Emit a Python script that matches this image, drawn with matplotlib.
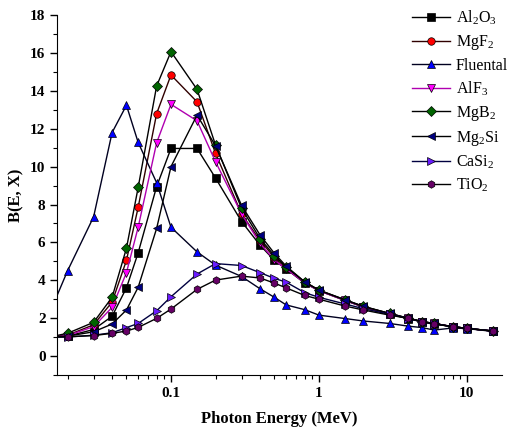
import matplotlib
matplotlib.use("Agg")
import matplotlib.pyplot as plt
from matplotlib.ticker import MultipleLocator, LogLocator, FixedLocator, NullFormatter, FixedFormatter

plt.rcParams['font.family'] = ['Liberation Serif', 'DejaVu Serif']
plt.rcParams['mathtext.fontset'] = 'custom'
plt.rcParams['mathtext.rm'] = 'Liberation Serif'
plt.rcParams['mathtext.it'] = 'Liberation Serif:italic'
plt.rcParams['mathtext.bf'] = 'Liberation Serif:bold'

energy = [0.015, 0.02, 0.03, 0.04, 0.05, 0.06, 0.08, 0.1, 0.15, 0.2, 0.3, 0.4, 0.5,
          0.6, 0.8, 1, 1.5, 2, 3, 4, 5, 6, 8, 10, 15]

al2o3 = [1.0, 1.05, 1.4, 2.1, 3.6, 5.45, 8.95, 10.96, 10.96, 9.4, 7.1, 5.85, 5.05,
         4.6, 3.85, 3.45, 2.93, 2.58, 2.22, 1.98, 1.8, 1.7, 1.55, 1.46, 1.32]
mgf2 = [1.0, 1.1, 1.65, 2.85, 5.05, 7.85, 12.8, 14.84, 13.42, 10.7, 7.5, 6.1, 5.2,
        4.65, 3.9, 3.46, 2.95, 2.6, 2.24, 1.99, 1.81, 1.72, 1.55, 1.46, 1.32]
fluental = [2.2, 4.5, 7.35, 11.8, 13.24, 11.28, 9.15, 6.8, 5.5, 4.8, 4.2, 3.55, 3.1,
            2.7, 2.45, 2.16, 1.98, 1.85, 1.72, 1.58, 1.5, 1.37, 1.48, 1.45, 1.3]
alf3 = [1.0, 1.08, 1.55, 2.57, 4.4, 6.8, 11.26, 13.29, 12.42, 10.26, 7.5, 5.95, 5.07,
        4.6, 3.88, 3.45, 2.94, 2.6, 2.23, 1.99, 1.81, 1.72, 1.55, 1.46, 1.32]
mgb2 = [1.0, 1.2, 1.78, 3.1, 5.69, 8.9, 14.26, 16.07, 14.08, 11.14, 7.8, 6.2, 5.3,
        4.7, 3.92, 3.48, 2.97, 2.62, 2.25, 2.0, 1.82, 1.72, 1.55, 1.46, 1.32]
mg2si = [1.0, 1.05, 1.28, 1.69, 2.43, 3.63, 6.74, 10.0, 12.72, 11.1, 7.95, 6.39, 5.42,
         4.75, 3.92, 3.48, 2.97, 2.62, 2.25, 2.0, 1.82, 1.72, 1.55, 1.46, 1.32]
casi2 = [1.0, 1.0, 1.1, 1.23, 1.5, 1.72, 2.39, 3.13, 4.33, 4.88, 4.78, 4.4, 4.1,
         3.9, 3.35, 3.1, 2.75, 2.5, 2.2, 1.98, 1.8, 1.7, 1.55, 1.46, 1.32]
tio2 = [1.0, 1.02, 1.08, 1.2, 1.32, 1.51, 1.99, 2.48, 3.52, 4.01, 4.22, 4.12, 3.85,
        3.6, 3.2, 3.0, 2.64, 2.43, 2.16, 1.99, 1.81, 1.69, 1.55, 1.46, 1.32]

series = [
    (r'Al$_2$O$_3$', al2o3, 's', '#000000', '#000000'),
    (r'MgF$_2$', mgf2, 'o', '#ff0000', '#300000'),
    ('Fluental', fluental, '^', '#0000ff', '#000020'),
    (r'AlF$_3$', alf3, 'v', '#ff00ff', '#b000b0'),
    (r'MgB$_2$', mgb2, 'D', '#006400', '#000000'),
    (r'Mg$_2$Si', mg2si, '<', '#000080', '#000000'),
    (r'CaSi$_2$', casi2, '>', '#6a1bff', '#000040'),
    (r'TiO$_2$', tio2, 'h', '#660066', '#000000'),
]

fig = plt.figure(figsize=(5.12, 4.32), dpi=100)
ax = fig.add_axes([0.112, 0.132, 0.868, 0.833])

for label, vals, mk, fc, lc in series:
    ms = 4.6 if mk == 'D' else 5.4
    ax.plot(energy, vals, color=lc, lw=1.0, marker=mk, markersize=ms,
            markerfacecolor=fc, markeredgecolor='#000000', markeredgewidth=0.5,
            label=label)

ax.set_xscale('log')
ax.set_xlim(0.01706, 17.2)
ax.set_ylim(-1, 18)

ax.yaxis.set_major_locator(FixedLocator([0, 2, 4, 6, 8, 10, 12, 14, 16, 18]))
ax.yaxis.set_minor_locator(MultipleLocator(1))
ax.xaxis.set_major_locator(FixedLocator([0.1, 1, 10]))
ax.xaxis.set_major_formatter(FixedFormatter(['0.1', '1', '10']))
ax.xaxis.set_minor_locator(LogLocator(base=10, subs=range(2, 10), numticks=20))
ax.xaxis.set_minor_formatter(NullFormatter())

ax.spines['top'].set_visible(False)
ax.spines['right'].set_visible(False)
ax.tick_params(which='major', direction='out', length=5, width=1, labelsize=11)
ax.tick_params(which='minor', direction='out', length=3, width=0.8)
for t in ax.get_xticklabels() + ax.get_yticklabels():
    t.set_fontweight('bold')

ax.set_xlabel('Photon Energy (MeV)', fontsize=12, fontweight='bold', labelpad=8)
ax.set_ylabel('B(E, X)', fontsize=12, fontweight='bold', labelpad=4)

leg = ax.legend(loc='upper left', bbox_to_anchor=(412 / 512, 1 - 9 / 432),
                bbox_transform=fig.transFigure, frameon=False, borderpad=0,
                borderaxespad=0, fontsize=11.5, handlelength=2.4,
                labelspacing=0.36, handletextpad=0.35, markerscale=1.0)

fig.savefig('out.png', dpi=100)
